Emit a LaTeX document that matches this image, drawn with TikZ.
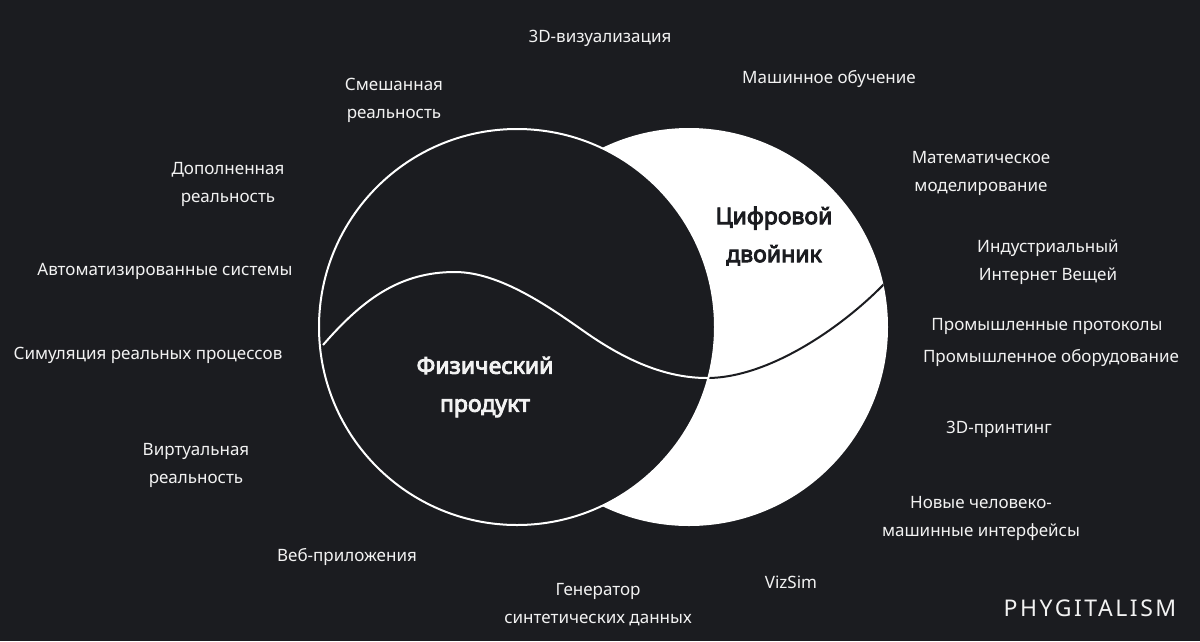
\documentclass[tikz,border=0pt]{standalone}
\usepackage{fontspec}
\setmainfont{Noto Sans}[AutoFakeBold=4]
\definecolor{bg}{HTML}{1B1C20}
\definecolor{fg}{HTML}{F2F2F2}
\begin{document}
\begin{tikzpicture}[x=1pt,y=-1pt,
  lbl/.style={font=\fontsize{17}{28}\selectfont, text=fg, align=center, inner sep=0pt},
  big/.style={font=\fontsize{23}{38}\selectfont\bfseries, align=center, inner sep=0pt},
  ring/.style={line width=2pt}]
\fill[bg] (0,0) rectangle (1200,641);
\useasboundingbox (0,0) rectangle (1200,641);
\coordinate (L) at (517,327);
\coordinate (R) at (689,327);
% white digital circle
\fill[white] (R) circle[radius=199];
\begin{scope}
  \clip (R) circle[radius=199];
  \draw[bg, ring] (323,345) .. controls (363,299) and (400,272) .. (455,272)
     .. controls (500,272) and (550,307.5) .. (585,332)
     .. controls (625,360) and (665,378) .. (707,378)
     .. controls (770,378) and (845,325) .. (886,282) -- (896,271);
\end{scope}
% physical circle
\draw[white, ring, fill=bg] (L) circle[radius=198];
\begin{scope}
  \clip (L) circle[radius=198];
  \draw[white, ring] (323,345) .. controls (363,299) and (400,272) .. (455,272)
     .. controls (500,272) and (550,307.5) .. (585,332)
     .. controls (625,360) and (665,378) .. (707,378)
     .. controls (770,378) and (845,325) .. (886,282) -- (896,271);
\end{scope}
% centre labels
\node[big, text=fg] (phys) at (485,387) {Физический\\продукт};
\node[big, text=bg] (dig) at (774,236) {Цифровой\\двойник};
% outer labels
\node[lbl] (viz3d) at (600,38) {3D-визуализация};
\node[lbl] (ml) at (829,79) {Машинное обучение};
\node[lbl] (mr) at (394,100) {Смешанная\\реальность};
\node[lbl] (ar) at (228,184) {Дополненная\\реальность};
\node[lbl] (auto) at (165,271) {Автоматизированные системы};
\node[lbl] (sim) at (148,355) {Симуляция реальных процессов};
\node[lbl] (vr) at (196,465) {Виртуальная\\реальность};
\node[lbl] (web) at (347,557) {Веб-приложения};
\node[lbl] (gen) at (598,605) {Генератор\\синтетических данных};
\node[lbl] (vizsim) at (791,582) {VizSim};
\node[lbl] (hmi) at (981,518) {Новые человеко-\\машинные интерфейсы};
\node[lbl] (print) at (999,429) {3D-принтинг};
\node[lbl] (equip) at (1051,358) {Промышленное оборудование};
\node[lbl] (proto) at (1047,326) {Промышленные протоколы};
\node[lbl] (iiot) at (1048,262) {Индустриальный\\Интернет Вещей};
\node[lbl] (math) at (981,173) {Математическое\\моделирование};
\node[lbl, font=\fontsize{23}{28}\selectfont\addfontfeature{LetterSpace=11}] (logo) at (1090,608) {PHYGITALISM};
\end{tikzpicture}
\end{document}
